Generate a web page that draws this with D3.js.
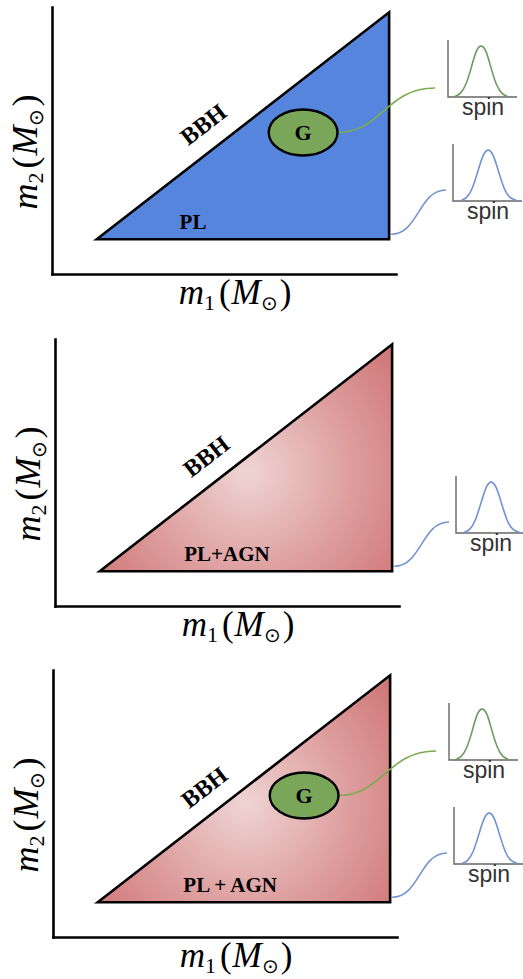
<!DOCTYPE html>
<html>
<head>
<meta charset="utf-8">
<script src="https://cdn.jsdelivr.net/npm/d3@7"></script>
<style>
  html, body { margin: 0; padding: 0; background: #fff; }
  svg { display: block; }
  .domain { stroke: #000; stroke-width: 2.6; stroke-linecap: square; }
</style>
</head>
<body>
<svg id="chart" width="523" height="979"></svg>
<script>
// ---- data (mass units on a 0..100 scale, spin curves) ----
const panelLabels = ["PL", "PL+AGN", "PL + AGN"];
const panelFill = ["blue", "agn", "agn"];
const hasGaussian = [true, false, true];

// triangle m2 <= m1 between the lower and upper mass cut
const triangle = [[13, 13], [98, 98], [98, 13]];
// gaussian peak component (centre and half widths)
const gaussCenter = [73, 53];
const gaussRadius = [10, 8.6];
// label anchors in mass units
const bbhAt = [44, 56];
const plAt = [[41, 19.5], [50, 19.5], [51.5, 19.5]];
// brightest spot of the AGN shading
const agnGlow = [56, 50];

// spin insets: x in 0..1 along the inset axis, density 0..1 of inset height
const spinGreenX = [0.10, 0.18, 0.26, 0.34, 0.41, 0.48, 0.55, 0.62, 0.70, 0.78, 0.86];
const spinBlueX  = [0.12, 0.20, 0.28, 0.36, 0.44, 0.51, 0.58, 0.66, 0.74, 0.82, 0.92];
const spinDensity = [0.01, 0.05, 0.2, 0.52, 0.84, 0.92, 0.84, 0.52, 0.2, 0.05, 0.01];

// ---- layout ----
const origins = [[52, 274], [55, 606], [53, 937]];
const W = 344, H = 267;

const svg = d3.select("#chart");
const defs = svg.append("defs");

function mathLabel(sel, sub) {
    sel.append("tspan").attr("font-style", "italic").text("m");
    sel.append("tspan").attr("font-size", 22).attr("dy", 6).text(sub);
    sel.append("tspan").attr("dy", -6).attr("dx", 4).text("(");
    sel.append("tspan").attr("font-style", "italic").attr("dx", 1).text("M");
    sel.append("tspan").attr("font-size", 20).attr("dy", 6).text("\u2299");
    sel.append("tspan").attr("dy", -6).attr("dx", 2).text(")");
}

origins.forEach(function(o, i) {
    const ox = o[0], oy = o[1];
    const x = d3.scaleLinear().domain([0, 100]).range([ox, ox + W]);
    const y = d3.scaleLinear().domain([0, 100]).range([oy, oy - H]);
    const g = svg.append("g");

    // fill for this panel
    let fill = "#5585dd";
    if (panelFill[i] === "agn") {
        const id = "agnGrad" + i;
        const grad = defs.append("radialGradient")
            .attr("id", id)
            .attr("gradientUnits", "userSpaceOnUse")
            .attr("cx", x(agnGlow[0])).attr("cy", y(agnGlow[1])).attr("r", 215);
        grad.append("stop").attr("offset", 0).attr("stop-color", "#efd4d4");
        grad.append("stop").attr("offset", 0.5).attr("stop-color", "#dd9c9c");
        grad.append("stop").attr("offset", 1).attr("stop-color", "#cb6a6a");
        fill = "url(#" + id + ")";
    }

    // axes without ticks
    g.append("g").attr("transform", "translate(0," + oy + ")")
        .call(d3.axisBottom(x).tickValues([]).tickSizeOuter(0));
    g.append("g").attr("transform", "translate(" + ox + ",0)")
        .call(d3.axisLeft(y).tickValues([]).tickSizeOuter(0));

    // triangle
    g.append("path")
        .datum(triangle)
        .attr("d", d3.line().x(d => x(d[0])).y(d => y(d[1])).curve(d3.curveLinearClosed))
        .attr("fill", fill)
        .attr("stroke", "#000")
        .attr("stroke-width", 2.6)
        .attr("stroke-linejoin", "miter");

    // BBH label along the diagonal
    const ang = Math.atan2(y(triangle[1][1]) - y(triangle[0][1]), x(triangle[1][0]) - x(triangle[0][0])) * 180 / Math.PI;
    g.append("text")
        .attr("transform", "translate(" + x(bbhAt[0]) + "," + y(bbhAt[1]) + ") rotate(" + ang + ")")
        .attr("text-anchor", "middle").attr("dominant-baseline", "central")
        .attr("font-family", "Liberation Serif").attr("font-weight", "bold")
        .attr("font-size", 24).text("BBH");

    g.append("text")
        .attr("x", x(plAt[i][0])).attr("y", y(plAt[i][1]))
        .attr("text-anchor", "middle").attr("dominant-baseline", "central")
        .attr("font-family", "Liberation Serif").attr("font-weight", "bold")
        .attr("font-size", 21).text(panelLabels[i]);

    // axis labels
    const xl = g.append("text")
        .attr("x", ox + 183).attr("y", oy + 30)
        .attr("text-anchor", "middle")
        .attr("font-family", "Liberation Serif").attr("font-size", 35);
    mathLabel(xl, "1");
    const yl = g.append("text")
        .attr("transform", "translate(" + (ox - 15) + "," + (oy - 122) + ") rotate(-90)")
        .attr("text-anchor", "middle")
        .attr("font-family", "Liberation Serif").attr("font-size", 36);
    mathLabel(yl, "2");

    // spin inset helper
    function inset(ix, iy, xs, color) {
        const sx = d3.scaleLinear().domain([0, 1]).range([ix, ix + 69]);
        const sy = d3.scaleLinear().domain([0, 1]).range([iy, iy - 57]);
        g.append("path")
            .attr("d", "M" + sx(0) + "," + sy(1) + "V" + sy(0) + "H" + sx(1))
            .attr("fill", "none").attr("stroke", "#666").attr("stroke-width", 1.4);
        g.append("path")
            .datum(d3.zip(xs, spinDensity))
            .attr("d", d3.line().x(d => sx(d[0])).y(d => sy(d[1])).curve(d3.curveBasis))
            .attr("fill", "none").attr("stroke", color).attr("stroke-width", 1.6);
        g.append("text")
            .attr("x", ix + 35).attr("y", iy + 18)
            .attr("text-anchor", "middle")
            .attr("font-family", "Liberation Sans").attr("font-size", 23)
            .attr("fill", "#333").text("spin");
    }

    function connector(x0, y0, x1, y1, k0, k1, color) {
        const dx = x1 - x0;
        g.append("path")
            .attr("d", "M" + x0 + "," + y0 + "C" + (x0 + k0 * dx) + "," + y0 + " " +
                  (x1 - k1 * dx) + "," + y1 + " " + x1 + "," + y1)
            .attr("fill", "none").attr("stroke", color).attr("stroke-width", 1.6);
    }

    // blue (power-law) spin inset, tied to the triangle corner
    inset(ox + 401, oy - 73, spinBlueX, "#6f92d3");
    connector(x(triangle[2][0]) + 2, y(triangle[2][1]) - 5, ox + 394, oy - 84, 0.5, 0.5, "#7595d0");

    if (hasGaussian[i]) {
        const cx = x(gaussCenter[0]), cy = y(gaussCenter[1]);
        const rx = x(gaussCenter[0] + gaussRadius[0]) - cx;
        const ry = cy - y(gaussCenter[1] + gaussRadius[1]);
        connector(cx + rx, cy, ox + 383, oy - 186, 0.45, 0.5, "#7aab4e");
        g.append("ellipse")
            .attr("cx", cx).attr("cy", cy).attr("rx", rx).attr("ry", ry)
            .attr("fill", "#7aa65a").attr("stroke", "#000").attr("stroke-width", 2.4);
        g.append("text")
            .attr("x", cx).attr("y", cy)
            .attr("text-anchor", "middle").attr("dominant-baseline", "central")
            .attr("font-family", "Liberation Serif").attr("font-weight", "bold")
            .attr("font-size", 22).text("G");
        inset(ox + 396, oy - 177, spinGreenX, "#6f9a5f");
    }
});
</script>
</body>
</html>
